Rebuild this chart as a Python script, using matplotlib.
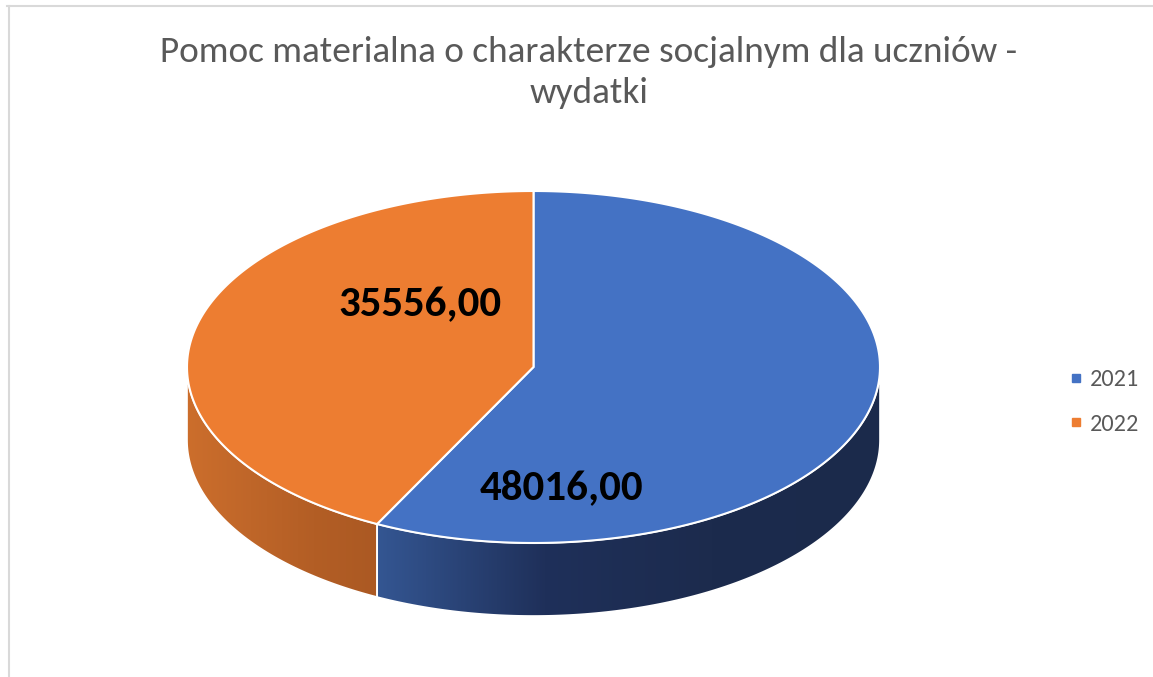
import numpy as np
import matplotlib.pyplot as plt
from matplotlib.patches import Polygon
from matplotlib.lines import Line2D
from matplotlib.colors import LinearSegmentedColormap

plt.rcParams['font.family'] = ['Carlito', 'Lato', 'DejaVu Sans']

# data
years = ['2021', '2022']
values = [48016.00, 35556.00]
value_labels = ['48016,00', '35556,00']
title_lines = ['Pomoc materialna o charakterze socjalnym dla uczniów -', 'wydatki']

top_colors = ['#4472C4', '#ED7D31']
wall_colors = [['#345692', '#1F305A', '#1C2B4D', '#1B2A4B'],
               ['#CC6E2C', '#BF6629', '#B35E25', '#AB5923']]

W, H = 1153, 677
fig = plt.figure(figsize=(W / 100, H / 100), dpi=100)
ax = fig.add_axes([0, 0, 1, 1])
ax.set_xlim(0, W)
ax.set_ylim(H, 0)
ax.axis('off')

# pie geometry (pixels)
cx, cy, a, b, depth = 533.5, 367, 346.5, 176, 73


def ellipse_pts(t_lo, t_hi, dy=0, n=200):
    t = np.radians(np.linspace(t_lo, t_hi, n))
    return np.column_stack([cx + a * np.cos(t), cy - b * np.sin(t) + dy])


fracs = np.array(values) / sum(values)
start = 90.0
ranges = []
for f in fracs:
    end = start - 360 * f
    ranges.append((end, start))
    start = end

# side walls (front half only: angles -180..0)
for (t1, t0), cols in zip(ranges, wall_colors):
    lo, hi = max(t1, -180), min(t0, 0)
    if lo >= hi:
        continue
    top = ellipse_pts(lo, hi)
    bot = ellipse_pts(hi, lo, dy=depth)
    poly = Polygon(np.vstack([top, bot]), closed=True, facecolor='none',
                   edgecolor='white', lw=1.2, zorder=2)
    ax.add_patch(poly)
    xs = np.concatenate([top[:, 0], bot[:, 0]])
    ys = np.concatenate([top[:, 1], bot[:, 1]])
    cmap = LinearSegmentedColormap.from_list('w', cols)
    grad = np.linspace(0, 1, 256).reshape(1, -1)
    im = ax.imshow(grad, cmap=cmap, aspect='auto', zorder=1,
                   extent=[xs.min(), xs.max(), ys.max(), ys.min()])
    clip = Polygon(np.vstack([top, bot]), closed=True, transform=ax.transData)
    im.set_clip_path(clip)

ax.set_xlim(0, W)
ax.set_ylim(H, 0)

# top faces
for (t1, t0), col in zip(ranges, top_colors):
    arc = ellipse_pts(t1, t0)
    pts = np.vstack([[cx, cy], arc])
    ax.add_patch(Polygon(pts, closed=True, facecolor=col, edgecolor='white',
                         lw=1.5, zorder=3))

# value labels
label_pos = [(562, 488), (420, 305)]
for txt, (x, y) in zip(value_labels, label_pos):
    ax.text(x, y, txt, ha='center', va='center', fontsize=31,
            fontweight='bold', color='black', zorder=5)

# title
ax.text(589, 62, title_lines[0], ha='center', va='baseline', fontsize=26.8,
        color='#595959')
ax.text(589, 103, title_lines[1], ha='center', va='baseline', fontsize=26.8,
        color='#595959')

# legend
handles = [Line2D([], [], marker='s', linestyle='none', markersize=5.5,
                  color=c) for c in top_colors]
leg = ax.legend(handles, years, loc='center left',
                bbox_to_anchor=(1070 / W, 1 - 402 / H), frameon=False,
                fontsize=17.5, labelcolor='#595959', labelspacing=0.97,
                handlelength=0.5, handletextpad=0.3, borderpad=0,
                borderaxespad=0)

# chart area border
ax.plot([7, W], [6, 6], color='#D9D9D9', lw=1.5, zorder=0)
ax.plot([8.5, 8.5], [6, H], color='#D9D9D9', lw=1.5, zorder=0)

fig.savefig('out.png', dpi=100)
